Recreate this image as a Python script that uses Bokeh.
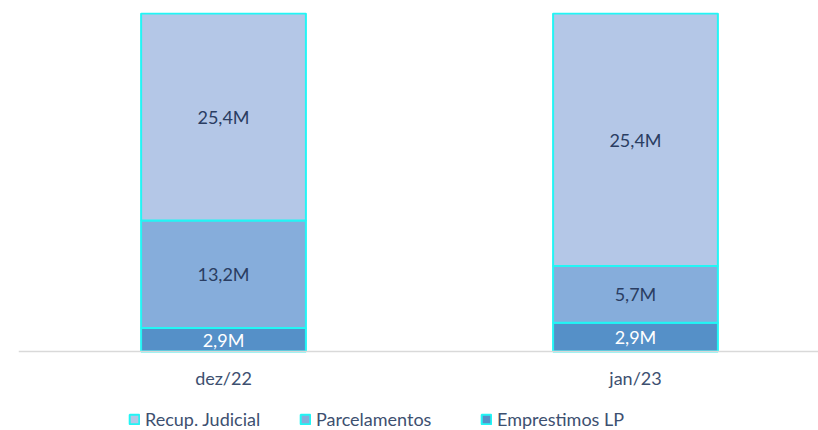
from bokeh.plotting import figure
from bokeh.models import (ColumnDataSource, Range1d, LinearAxis, FixedTicker,
                          Legend, LegendItem)
from bokeh.core.properties import value
from bokeh.embed import file_html
from bokeh.resources import INLINE

# ---- data ----
categories = ["dez/22", "jan/23"]
recup_judicial = [25.4, 25.4]
parcelamentos = [13.2, 5.7]
emprestimos_lp = [2.9, 2.9]
series_names = ["Recup. Judicial", "Parcelamentos", "Emprestimos LP"]

# ---- styles ----
FONT = "Lato"
COL_REC = "#B4C7E7"
COL_PAR = "#86ADDB"
COL_EMP = "#5590C8"
OUTLINE = "#22F5F5"
TXT_DARK = "#2A3D62"
AXIS_TXT = "#3D5070"

xs = list(range(len(categories)))
totals = [a + b + c for a, b, c in zip(recup_judicial, parcelamentos, emprestimos_lp)]
emp_f = [v / t for v, t in zip(emprestimos_lp, totals)]
par_f = [v / t for v, t in zip(parcelamentos, totals)]
rec_f = [v / t for v, t in zip(recup_judicial, totals)]

src = ColumnDataSource(dict(x=xs, emp=emp_f, par=par_f, rec=rec_f))

p = figure(width=818, height=430, output_backend="svg", toolbar_location=None,
           x_range=Range1d(-0.4976, 1.4442), y_range=Range1d(-0.2337, 1.00296),
           x_axis_location=None, y_axis_location=None,
           min_border_left=18, min_border_right=0, min_border_top=12,
           min_border_bottom=0)
p.outline_line_color = None
p.grid.visible = False
p.background_fill_color = "white"

rs = p.vbar_stack(["emp", "par", "rec"], x="x", width=0.4, source=src,
                  fill_color=[COL_EMP, COL_PAR, COL_REC],
                  line_color=OUTLINE, line_width=2)
r_emp, r_par, r_rec = rs

# ---- labels ----
def fmt(v):
    return f"{v:.1f}M".replace(".", ",")

lx, ly, lt, lc = [], [], [], []
for i in xs:
    base = 0.0
    for frac, val, col in ((emp_f[i], emprestimos_lp[i], "white"),
                           (par_f[i], parcelamentos[i], TXT_DARK),
                           (rec_f[i], recup_judicial[i], TXT_DARK)):
        lx.append(i)
        ly.append(base + frac / 2)
        lt.append(fmt(val))
        lc.append(col)
        base += frac
lsrc = ColumnDataSource(dict(x=lx, y=ly, t=lt, c=lc))
p.text(x="x", y="y", text="t", text_color="c", source=lsrc,
       text_align="center", text_baseline="middle",
       text_font=value(FONT), text_font_size="18px")

# ---- axis (baseline at y=0) ----
ax = LinearAxis(ticker=FixedTicker(ticks=xs), fixed_location=0,
                major_label_overrides={i: c for i, c in zip(xs, categories)})
ax.axis_line_color = "#D9D9D9"
ax.axis_line_width = 1.5
ax.major_tick_line_color = None
ax.minor_tick_line_color = None
ax.major_tick_out = 0
ax.major_tick_in = 0
ax.major_label_standoff = 15
ax.major_label_text_font = FONT
ax.major_label_text_font_size = "18px"
ax.major_label_text_color = AXIS_TXT
p.add_layout(ax, "below")

# ---- legends ----
for name, r, vx in zip(series_names, [r_rec, r_par, r_emp], [110, 281, 462]):
    lg = Legend(items=[LegendItem(label=name, renderers=[r])],
                location=(vx, 0), orientation="horizontal",
                glyph_width=12, glyph_height=12, label_standoff=5,
                padding=0, margin=0, spacing=0,
                border_line_color=None, background_fill_alpha=0,
                label_text_font=FONT, label_text_font_size="18px",
                label_text_color=AXIS_TXT, label_height=20)
    p.add_layout(lg, "center")

open("out.html", "w").write(file_html(p, INLINE))
